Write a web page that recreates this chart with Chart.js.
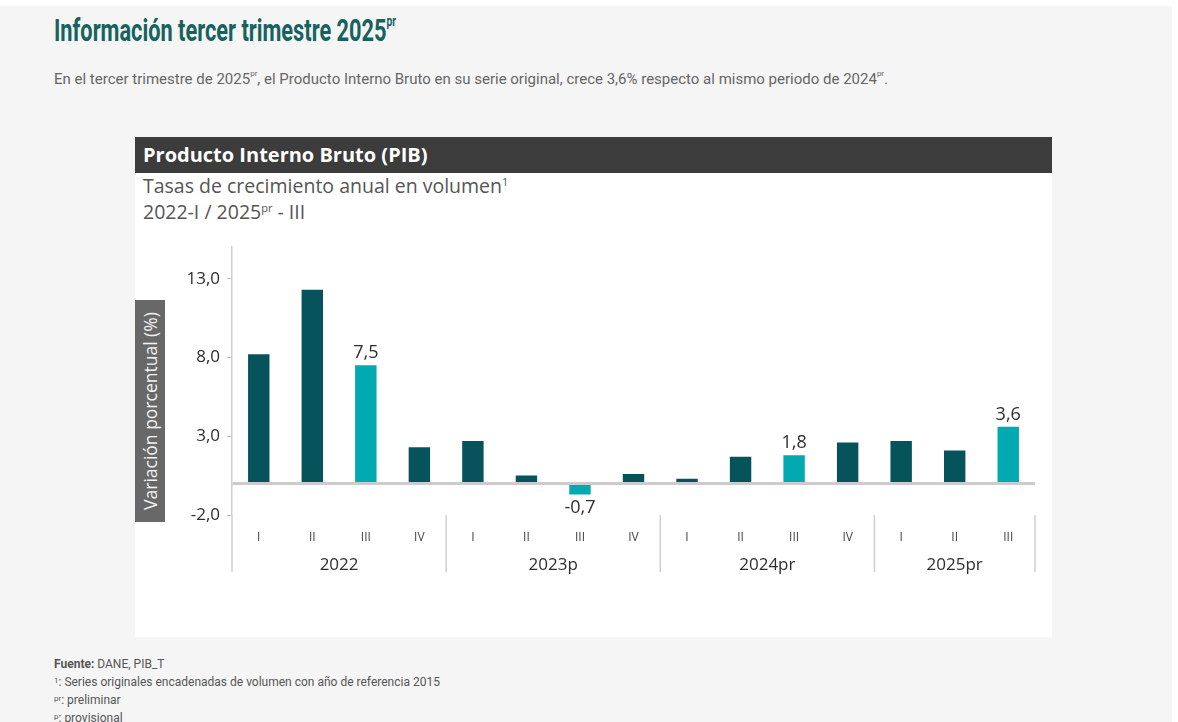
<!DOCTYPE html>
<html>
<head>
<meta charset="utf-8">
<script src="https://cdn.jsdelivr.net/npm/chart.js@4.4.1/dist/chart.umd.min.js"></script>
<style>
  html, body { margin:0; padding:0; width:1178px; height:722px; overflow:hidden; background:#ffffff; }
  #page { position:absolute; left:0; top:6px; width:1172px; height:716px; background:#f5f5f5; }
  .abs { position:absolute; white-space:nowrap; }
  #title { left:54px; top:11px; font-family:Roboto, sans-serif; font-weight:700; font-size:32px; color:#17625f; transform:scaleX(0.68); transform-origin:0 0; }
  #title sup { font-size:15px; vertical-align:top; position:relative; top:1px; }
  #lead { left:54px; top:70px; font-family:Roboto, sans-serif; font-size:15px; color:#666; }
  #lead sup, #foot sup { font-size:8px; vertical-align:top; position:relative; top:-1px; }
  #panel { left:135px; top:137px; width:917px; height:500px; background:#ffffff; }
  #header { left:135px; top:137px; width:917px; height:36px; background:#3c3c3c; color:#fff; font-family:'Open Sans', sans-serif; font-weight:700; font-size:20px; line-height:36px; box-sizing:border-box; padding-left:8px; }
  #sub { left:143px; top:173px; font-family:'Open Sans', sans-serif; font-size:19.5px; line-height:26px; color:#555; }
  #sub sup { font-size:11px; vertical-align:super; line-height:0; }
  #ytitle { left:135px; top:300px; width:30px; height:222px; background:#686868; }
  #ytitle span { position:absolute; left:15px; top:111px; transform:translate(-50%,-50%) rotate(-90deg); font-family:'Open Sans', sans-serif; font-size:17.5px; color:#f2f2f2; white-space:nowrap; }
  #wrap { left:135px; top:230px; width:917px; height:406px; }
  #foot { left:54px; top:655px; font-family:Roboto, sans-serif; font-size:12px; line-height:18px; color:#555; }
</style>
</head>
<body>
<div id="page"></div>
<div id="title" class="abs">Información tercer trimestre 2025<sup>pr</sup></div>
<div id="lead" class="abs">En el tercer trimestre de 2025<sup>pr</sup>, el Producto Interno Bruto en su serie original, crece 3,6% respecto al mismo periodo de 2024<sup>pr</sup>.</div>
<div id="panel" class="abs"></div>
<div id="header" class="abs">Producto Interno Bruto (PIB)</div>
<div id="sub" class="abs">Tasas de crecimiento anual en volumen<sup>1</sup><br>2022-I / 2025<sup>pr</sup> - III</div>
<div id="wrap" class="abs"><canvas id="c"></canvas></div>
<div id="ytitle" class="abs"><span>Variación porcentual (%)</span></div>
<div id="foot" class="abs"><b>Fuente:</b> DANE, PIB_T<br><sup>1</sup>: Series originales encadenadas de volumen con año de referencia 2015<br><sup>pr</sup>: preliminar<br><sup>p</sup>: provisional</div>
<script>
// ---- data ----
const quarters = ['I','II','III','IV','I','II','III','IV','I','II','III','IV','I','II','III'];
const years = ['2022','2023p','2024pr','2025pr'];
const yearSizes = [4, 4, 4, 3];
const values = [8.2, 12.3, 7.5, 2.3, 2.7, 0.5, -0.7, 0.6, 0.3, 1.7, 1.8, 2.6, 2.7, 2.1, 3.6];
const highlighted = [false,false,true,false,false,false,true,false,false,false,true,false,false,false,true];
const yTicks = [-2, 0, 3, 8, 13];
const yMin = -2, yMax = 15;

const darkColor = '#07535b', lightColor = '#00aab0';
const fmt = v => Number(v).toFixed(1).replace('.', ',');

const groupPlugin = {
  id: 'groups',
  afterDraw(chart) {
    const x = chart.scales.x, ctx = chart.ctx;
    ctx.save();
    ctx.strokeStyle = '#cfcfcf';
    ctx.lineWidth = 1.5;
    let start = 0;
    const bounds = [x.getPixelForValue(-0.5)];
    yearSizes.forEach((size, g) => {
      const end = start + size;
      bounds.push(x.getPixelForValue(end - 0.5));
      const cx = x.getPixelForValue(start + (size - 1) / 2);
      ctx.fillStyle = '#2e2e2e';
      ctx.font = '17px "Open Sans"';
      ctx.textAlign = 'center';
      ctx.textBaseline = 'middle';
      ctx.fillText(years[g], cx, x.bottom - 7);
      start = end;
    });
    bounds.forEach(px => {
      ctx.beginPath();
      ctx.moveTo(px, x.top);
      ctx.lineTo(px, x.bottom);
      ctx.stroke();
    });
    ctx.restore();
  }
};

const labelPlugin = {
  id: 'barLabels',
  afterDatasetsDraw(chart) {
    const meta = chart.getDatasetMeta(0), ctx = chart.ctx;
    ctx.save();
    ctx.fillStyle = '#2e2e2e';
    ctx.font = '18px "Open Sans"';
    ctx.textAlign = 'center';
    values.forEach((v, i) => {
      if (!highlighted[i]) return;
      const bar = meta.data[i];
      if (v >= 0) { ctx.textBaseline = 'bottom'; ctx.fillText(fmt(v), bar.x, bar.y - 3); }
      else { ctx.textBaseline = 'top'; ctx.fillText(fmt(v), bar.x, bar.y + 4); }
    });
    ctx.restore();
  }
};

new Chart(document.getElementById('c'), {
  type: 'bar',
  data: {
    labels: quarters,
    datasets: [{
      data: values,
      backgroundColor: highlighted.map(h => h ? lightColor : darkColor),
      borderWidth: 0,
      barPercentage: 0.4,
      categoryPercentage: 1.0
    }]
  },
  options: {
    responsive: true,
    maintainAspectRatio: false,
    animation: false,
    layout: { padding: { left: 0, right: 17, top: 16, bottom: 64 } },
    plugins: { legend: { display: false }, tooltip: { enabled: false } },
    scales: {
      x: {
        grid: { display: false },
        border: { display: false },
        ticks: { font: { family: 'Open Sans', size: 12 }, color: '#444', padding: 7, autoSkip: false, maxRotation: 0 },
        afterFit: s => { s.height = 57; }
      },
      y: {
        min: yMin, max: yMax,
        afterBuildTicks: s => { s.ticks = yTicks.map(v => ({ value: v })); },
        ticks: { callback: v => v === 0 ? '' : fmt(v), font: { family: 'Open Sans', size: 17 }, color: '#2e2e2e', padding: 7 },
        grid: {
          drawOnChartArea: true,
          color: c => (c.tick && c.tick.value === 0) ? '#cccccc' : 'rgba(0,0,0,0)',
          lineWidth: c => (c.tick && c.tick.value === 0) ? 3 : 1,
          tickLength: 5,
          tickWidth: 1,
          tickColor: c => (c.tick && c.tick.value === 0) ? 'rgba(0,0,0,0)' : '#c0c0c0'
        },
        border: { display: true, color: '#cfcfcf', width: 1.5 },
        afterFit: s => { s.width = 97; }
      }
    }
  },
  plugins: [groupPlugin, labelPlugin]
});
</script>
</body>
</html>
